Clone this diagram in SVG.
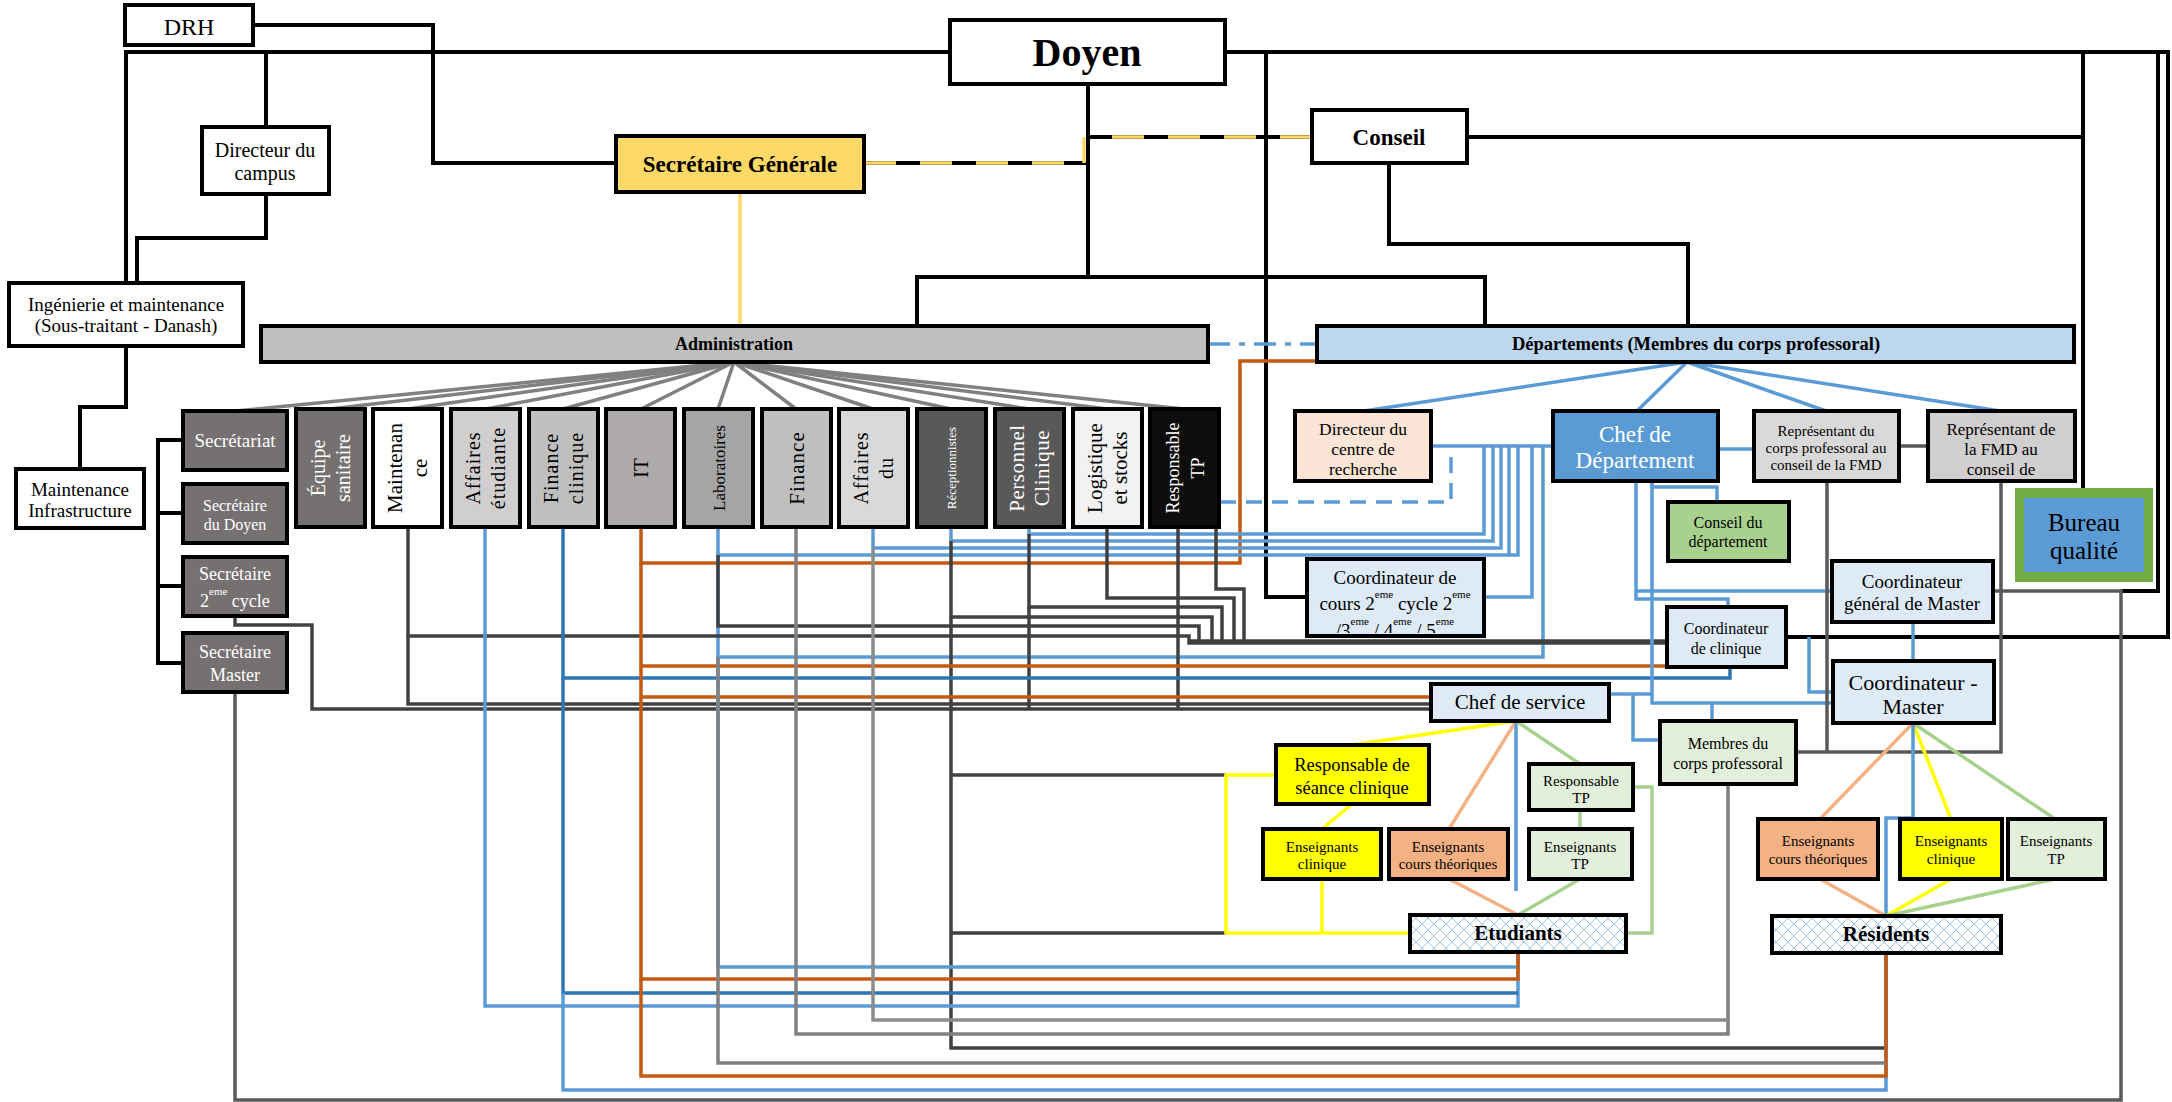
<svg xmlns="http://www.w3.org/2000/svg" width="2172" height="1102" viewBox="0 0 2172 1102">
<style>
.t{font-family:"Liberation Serif","Times New Roman",serif;text-anchor:middle;fill:#000}
.w{fill:#fff}
.b{font-weight:bold}
.bx{stroke:#000;stroke-width:4}
.ln{fill:none;stroke-width:3.5;stroke-linejoin:miter}
.k{stroke:#000;stroke-width:4}
.gy{stroke:#808080}
.dg{stroke:#404040}
.mg{stroke:#595959}
.lg{stroke:#8c8c8c}
.lb{stroke:#5B9BD5}
.db{stroke:#2E75B6}
.or{stroke:#C55A11}
.yl{stroke:#FFFF00}
.pe{stroke:#F4B183}
.gr{stroke:#A9D18E}
</style>
<defs>
<pattern id="trellis" width="12" height="12" patternUnits="userSpaceOnUse">
<rect width="12" height="12" fill="#fff"/>
<path d="M0,6 L6,0 L12,6 L6,12 Z" fill="none" stroke="#9DC3E6" stroke-width="1"/>
</pattern>
<clipPath id="ccClip"><rect x="1309" y="561" width="173" height="72"/></clipPath>
</defs>
<rect width="2172" height="1102" fill="#fff"/>

<g id="connectors">
<path class="ln k" d="M253,25 H433 V163 H615"/>
<path class="ln k" d="M950,52 H126 V283"/>
<path class="ln k" d="M266,52 V127"/>
<path class="ln k" d="M266,194 V238 H137 V283"/>
<path class="ln k" d="M126,346 V407 H80 V469"/>
<path class="ln k" d="M1225,52 H2168 V637 H1786"/>
<path class="ln k" d="M2158,52 V591 H2121"/>
<path class="ln k" d="M2083,52 V490"/>
<path class="ln k" d="M1266,52 V597 H1307"/>
<path class="ln k" d="M1088,84 V277"/>
<path class="ln k" d="M917,326 V277 H1485 V326"/>
<path class="ln k" d="M1467,137 H2083"/>
<path class="ln k" d="M1389,163 V244 H1688 V326"/>
<path class="ln k" d="M864,163 H1088 V137 H1312"/>
<path class="ln" stroke="#FFD966" stroke-width="9" stroke-dasharray="32 24" d="M864,163 H1088"/>
<path class="ln" stroke="#FFD966" stroke-width="9" stroke-dasharray="32 24" d="M1312,137 H1088"/>
<path class="ln" stroke="#FFD966" stroke-width="4" d="M1084,137 V163"/>
<path class="ln" stroke="#FFD966" stroke-width="5" d="M740,192 V326"/>
<path class="ln k" d="M183,440 H158 V663 H183 M158,513 H183 M158,586 H183"/>
<path class="ln lb" stroke-width="5" stroke-dasharray="22 9 6 9" d="M1208,344 H1317"/>

<g class="ln gy" stroke-width="4">
<path d="M734,362 L235,411"/><path d="M734,362 L330,409"/><path d="M734,362 L408,409"/>
<path d="M734,362 L486,409"/><path d="M734,362 L563,409"/><path d="M734,362 L641,409"/>
<path d="M734,362 L718,409"/><path d="M734,362 L796,409"/><path d="M734,362 L873,409"/>
<path d="M734,362 L951,409"/><path d="M734,362 L1029,409"/><path d="M734,362 L1107,409"/>
<path d="M734,362 L1184,409"/>
</g>
<path class="ln lb" stroke-width="6" d="M1687,362 L1364,411"/>
<path class="ln lb" stroke-width="4" d="M1687,362 L1637,411"/>
<path class="ln lb" stroke-width="5" d="M1687,362 L1826,411"/>
<path class="ln lb" stroke-width="6" d="M1687,362 L2000,411"/>

<path class="ln lb" stroke-width="4" d="M1431,446 H1553"/>
<path class="ln lb" stroke-width="4" stroke-dasharray="16 10" d="M1220,502 H1451 V446"/>
<path class="ln lb" d="M1219,510 V527"/>

<path class="ln or" d="M641,527 V563 H1240 V361 H1317"/>
<path class="ln lb" d="M718,527 V555 H1518 V446"/>
<path class="ln lb" d="M1509,446 V555"/>
<path class="ln lb" d="M873,527 V548 H1501 V446"/>
<path class="ln lb" d="M951,527 V541 H1493 V446"/>
<path class="ln lb" d="M1029,527 V534 H1484 V446"/>
<path class="ln lb" d="M1484,597 H1532 V446"/>
<path class="ln lb" d="M718,555 V657 H1543 V446"/>

<g class="ln dg" stroke-width="4">
<path d="M1216,527 V589 H1244 V643"/>
<path d="M1107,527 V598 H1234 V643"/>
<path d="M1029,534 V607 H1222 V643"/>
<path d="M951,541 V617 H1212 V643"/>
<path d="M718,555 V626 H1199 V643"/>
<path d="M408,527 V636 H1189 V643 H1666"/>
<path d="M1189,641 H1666"/>
<path d="M408,636 V704 H1431"/>
<path d="M235,616 V625 H312 V709 H1431"/>
<path d="M1029,607 V709"/>
<path d="M1178,527 V709"/>
<path d="M951,617 V1048 H1886 V953"/>
<path d="M951,775 H1226"/>
<path d="M951,933 H1226"/>
</g>
<path class="ln or" d="M641,563 V666 H1668"/>
<path class="ln db" d="M563,527 V678 H1730 V666"/>
<path class="ln or" d="M641,666 V697 H1431"/>
<path class="ln lb" d="M485,527 V1006 H1518 V952"/>
<path class="ln lb" d="M718,657 V967 H1518 V952"/>
<path class="ln or" d="M641,697 V979 H1518 V952"/>
<path class="ln db" d="M563,678 V993 H1518"/>
<path class="ln lb" d="M563,993 V1090 H1886 V953"/>
<path class="ln or" d="M641,979 V1076 H1886 V953"/>
<path class="ln gy" d="M718,657 V1063 H1886"/>
<path class="ln gy" d="M796,527 V1034 H1728 V784"/>
<path class="ln lg" d="M873,548 V1020 H1728"/>
<path class="ln mg" d="M235,692 V1100 H2121 V591 H1993"/>

<path class="ln lb" stroke-width="6" d="M1718,449 H1754"/>
<path class="ln mg" stroke-width="5" d="M1899,446 H1928"/>
<path class="ln lb" stroke-width="4" d="M1636,481 V591 H1832"/>
<path class="ln lb" stroke-width="4" d="M1636,591 V599 H1728 V607"/>
<path class="ln lb" stroke-width="4" d="M1652,481 V703 H1833"/>
<path class="ln lb" stroke-width="4" d="M1712,703 V721"/>
<path class="ln lb" stroke-width="4" d="M1652,481 V487 H1717 V502"/>
<path class="ln lb" stroke-width="4" d="M1609,694 H1652"/>
<path class="ln lb" stroke-width="4" d="M1633,694 V740 H1660"/>
<path class="ln lb" stroke-width="4" d="M1809,637 V692 H1833"/>
<path class="ln mg" d="M1827,481 V752"/>
<path class="ln mg" d="M1796,752 H2001 V481"/>
<path class="ln lb" stroke-width="4" d="M1913,622 V661"/>

<path class="ln yl" d="M1516,721 L1352,745"/>
<path class="ln pe" d="M1516,721 L1449,829"/>
<path class="ln lb" d="M1516,721 V891"/>
<path class="ln gr" d="M1516,721 L1580,764"/>
<path class="ln yl" d="M1352,804 L1322,829"/>
<path class="ln yl" d="M1322,879 V933"/>
<path class="ln yl" d="M1276,775 H1226 V933 H1410"/>
<path class="ln pe" d="M1449,879 L1518,915"/>
<path class="ln gr" d="M1580,879 L1518,915"/>
<path class="ln gr" d="M1580,810 V829"/>
<path class="ln gr" d="M1633,787 H1652 V933 H1626"/>

<path class="ln pe" d="M1913,723 L1820,819"/>
<path class="ln yl" d="M1913,723 L1951,819"/>
<path class="ln gr" d="M1913,723 L2055,819"/>
<path class="ln lb" d="M1913,723 V818 H1886 V916"/>
<path class="ln pe" d="M1820,879 L1886,916"/>
<path class="ln yl" d="M1951,879 L1886,916"/>
<path class="ln gr" stroke-width="5" d="M2055,879 L1886,916"/>
</g>

<g id="n-drh"><rect class="bx" x="125" y="5" width="128" height="40" fill="#fff"/><text class="t" x="189" y="35" font-size="24">DRH</text></g>
<g id="n-doyen"><rect class="bx" x="950" y="20" width="275" height="64" fill="#fff"/><text class="t b" x="1087" y="66" font-size="40">Doyen</text></g>
<g id="n-sg"><rect class="bx" x="616" y="136" width="248" height="56" fill="#FFD966"/><text class="t b" x="740" y="172" font-size="23">Secrétaire Générale</text></g>
<g id="n-conseil"><rect class="bx" x="1312" y="110" width="155" height="53" fill="#fff"/><text class="t b" x="1389" y="145" font-size="23">Conseil</text></g>
<g id="n-campus"><rect class="bx" x="202" y="127" width="127" height="67" fill="#fff"/><text class="t" x="265" font-size="20"><tspan x="265" y="157">Directeur du</tspan><tspan x="265" y="180">campus</tspan></text></g>
<g id="n-inge"><rect class="bx" x="9" y="283" width="234" height="63" fill="#fff"/><text class="t" font-size="19"><tspan x="126" y="311">Ingénierie et maintenance</tspan><tspan x="126" y="332">(Sous-traitant - Danash)</tspan></text></g>
<g id="n-maintinfra"><rect class="bx" x="16" y="469" width="128" height="59" fill="#fff"/><text class="t" font-size="19"><tspan x="80" y="496">Maintenance</tspan><tspan x="80" y="517">Infrastructure</tspan></text></g>
<g id="n-admin"><rect class="bx" x="261" y="326" width="947" height="36" fill="#BFBFBF"/><text class="t b" x="734" y="350" font-size="18">Administration</text></g>
<g id="n-dept"><rect class="bx" x="1317" y="326" width="757" height="36" fill="#BDD7EE"/><text class="t b" x="1696" y="350" font-size="18.5">Départements (Membres du corps professoral)</text></g>

<g id="n-secretariat"><rect class="bx" x="183" y="411" width="104" height="59" fill="#767171"/><text class="t w" x="235" y="447" font-size="19">Secrétariat</text></g>
<g id="n-secdoyen"><rect class="bx" x="183" y="484" width="104" height="59" fill="#767171"/><text class="t w" font-size="16"><tspan x="235" y="511">Secrétaire</tspan><tspan x="235" y="530">du Doyen</tspan></text></g>
<g id="n-sec2"><rect class="bx" x="183" y="557" width="104" height="59" fill="#767171"/><text class="t w" font-size="18"><tspan x="235" y="580">Secrétaire</tspan><tspan x="200" y="607" text-anchor="start">2</tspan><tspan font-size="11" dy="-12">eme</tspan><tspan dy="12"> cycle</tspan></text></g>
<g id="n-secmaster"><rect class="bx" x="183" y="633" width="104" height="59" fill="#767171"/><text class="t w" font-size="18"><tspan x="235" y="658">Secrétaire</tspan><tspan x="235" y="681">Master</tspan></text></g>

<g id="n-equipe"><rect class="bx" x="296" y="409" width="69" height="118" fill="#767171"/><text class="t w" font-size="20" transform="translate(330.5,468) rotate(-90)"><tspan x="0" y="-5.5">Équipe</tspan><tspan x="0" y="19.5">sanitaire</tspan></text></g>
<g id="n-maint"><rect class="bx" x="373" y="409" width="69" height="118" fill="#fff"/><text class="t" font-size="21" transform="translate(407.5,468) rotate(-90)"><tspan x="0" y="-5.5">Maintenan</tspan><tspan x="0" y="19.5">ce</tspan></text></g>
<g id="n-affet"><rect class="bx" x="451" y="409" width="69" height="118" fill="#D0CECE"/><text class="t" font-size="20" letter-spacing="1" transform="translate(485.5,468) rotate(-90)"><tspan x="0" y="-5.5">Affaires</tspan><tspan x="0" y="19.5">étudiante</tspan></text></g>
<g id="n-fincl"><rect class="bx" x="529" y="409" width="69" height="118" fill="#BFBFBF"/><text class="t" font-size="20" letter-spacing="1" transform="translate(563.5,468) rotate(-90)"><tspan x="0" y="-5.5">Finance</tspan><tspan x="0" y="19.5">clinique</tspan></text></g>
<g id="n-it"><rect class="bx" x="606" y="409" width="69" height="118" fill="#AEAAAA"/><text class="t" font-size="21" transform="translate(640.5,468) rotate(-90)"><tspan x="0" y="7">IT</tspan></text></g>
<g id="n-labo"><rect class="bx" x="684" y="409" width="69" height="118" fill="#A5A5A5"/><text class="t" font-size="17" transform="translate(718.5,468) rotate(-90)"><tspan x="0" y="6">Laboratoires</tspan></text></g>
<g id="n-finance"><rect class="bx" x="762" y="409" width="69" height="118" fill="#BFBFBF"/><text class="t" font-size="21" letter-spacing="1" transform="translate(796.5,468) rotate(-90)"><tspan x="0" y="7">Finance</tspan></text></g>
<g id="n-affdu"><rect class="bx" x="839" y="409" width="69" height="118" fill="#D9D9D9"/><text class="t" font-size="20" letter-spacing="1" transform="translate(873.5,468) rotate(-90)"><tspan x="0" y="-5.5">Affaires</tspan><tspan x="0" y="19.5">du</tspan></text></g>
<g id="n-recep"><rect class="bx" x="917" y="409" width="69" height="118" fill="#595959"/><text class="t w" font-size="13" transform="translate(951.5,468) rotate(-90)"><tspan x="0" y="4.5">Réceptionnistes</tspan></text></g>
<g id="n-perso"><rect class="bx" x="995" y="409" width="69" height="118" fill="#595959"/><text class="t w" font-size="21" letter-spacing="0.5" transform="translate(1029.5,468) rotate(-90)"><tspan x="0" y="-5.5">Personnel</tspan><tspan x="0" y="19.5">Clinique</tspan></text></g>
<g id="n-logi"><rect class="bx" x="1073" y="409" width="69" height="118" fill="#F2F2F2"/><text class="t" font-size="21" transform="translate(1107.5,468) rotate(-90)"><tspan x="0" y="-5.5">Logistique</tspan><tspan x="0" y="19.5">et stocks</tspan></text></g>
<g id="n-resptp"><rect class="bx" x="1150" y="409" width="69" height="118" fill="#0D0D0D"/><text class="t w" font-size="18" transform="translate(1184.5,468) rotate(-90)"><tspan x="0" y="-5.5">Responsable</tspan><tspan x="0" y="19.5">TP</tspan></text></g>

<g id="n-dircentre"><rect class="bx" x="1295" y="411" width="136" height="70" fill="#FBE5D6"/><text class="t" font-size="17.5"><tspan x="1363" y="435">Directeur du</tspan><tspan x="1363" y="455">centre de</tspan><tspan x="1363" y="475">recherche</tspan></text></g>
<g id="n-chefdep"><rect class="bx" x="1553" y="411" width="165" height="70" fill="#5B9BD5"/><text class="t w" font-size="23"><tspan x="1635" y="442">Chef de</tspan><tspan x="1635" y="468">Département</tspan></text></g>
<g id="n-repcorps"><rect class="bx" x="1754" y="411" width="145" height="70" fill="#D9D9D9"/><text class="t" font-size="15"><tspan x="1826" y="436">Représentant du</tspan><tspan x="1826" y="453">corps professoral au</tspan><tspan x="1826" y="470">conseil de la FMD</tspan></text></g>
<g id="n-repfmd"><rect class="bx" x="1928" y="411" width="147" height="70" fill="#D0CECE"/><text class="t" font-size="17"><tspan x="2001" y="435">Représentant de</tspan><tspan x="2001" y="455">la FMD au</tspan><tspan x="2001" y="475">conseil de</tspan></text></g>
<g id="n-conseildep"><rect class="bx" x="1668" y="502" width="121" height="59" fill="#A9D18E"/><text class="t" font-size="16"><tspan x="1728" y="528">Conseil du</tspan><tspan x="1728" y="547">département</tspan></text></g>
<g id="n-bureau"><rect x="2015" y="488" width="138" height="94" fill="#70AD47"/><rect x="2024" y="498" width="120" height="74" fill="#5B9BD5"/><text class="t" font-size="25"><tspan x="2084" y="531">Bureau</tspan><tspan x="2084" y="559">qualité</tspan></text></g>
<g id="n-coordcours"><rect class="bx" x="1307" y="559" width="177" height="77" fill="#DEEBF7"/><g clip-path="url(#ccClip)"><text class="t" font-size="19"><tspan x="1395" y="584">Coordinateur de</tspan></text><text class="t" font-size="19" x="1395" y="610">cours 2<tspan font-size="11" dy="-12">eme</tspan><tspan dy="12"> cycle  2</tspan><tspan font-size="11" dy="-12">eme</tspan></text><text class="t" font-size="19" x="1395" y="637">/3<tspan font-size="11" dy="-12">eme</tspan><tspan dy="12"> / 4</tspan><tspan font-size="11" dy="-12">eme</tspan><tspan dy="12"> / 5</tspan><tspan font-size="11" dy="-12">eme</tspan></text></g></g>
<g id="n-coordgen"><rect class="bx" x="1832" y="561" width="161" height="61" fill="#DEEBF7"/><text class="t" font-size="19"><tspan x="1912" y="588">Coordinateur</tspan><tspan x="1912" y="610">général de Master</tspan></text></g>
<g id="n-coordclin"><rect class="bx" x="1667" y="607" width="119" height="60" fill="#DEEBF7"/><text class="t" font-size="16"><tspan x="1726" y="634">Coordinateur</tspan><tspan x="1726" y="654">de clinique</tspan></text></g>
<g id="n-coordmaster"><rect class="bx" x="1833" y="661" width="161" height="62" fill="#DEEBF7"/><text class="t" font-size="22"><tspan x="1913" y="690">Coordinateur -</tspan><tspan x="1913" y="714">Master</tspan></text></g>
<g id="n-chefserv"><rect class="bx" x="1431" y="684" width="178" height="37" fill="#DEEBF7"/><text class="t" x="1520" y="709" font-size="21">Chef de service</text></g>
<g id="n-membres"><rect class="bx" x="1660" y="721" width="136" height="63" fill="#E2EFDA"/><text class="t" font-size="16"><tspan x="1728" y="749">Membres du</tspan><tspan x="1728" y="769">corps professoral</tspan></text></g>
<g id="n-respseance"><rect class="bx" x="1276" y="745" width="153" height="59" fill="#FFFF00"/><text class="t" font-size="18.5"><tspan x="1352" y="771">Responsable de</tspan><tspan x="1352" y="794">séance clinique</tspan></text></g>
<g id="n-ensclin-e"><rect class="bx" x="1263" y="829" width="118" height="50" fill="#FFFF00"/><text class="t" font-size="15"><tspan x="1322" y="852">Enseignants</tspan><tspan x="1322" y="869">clinique</tspan></text></g>
<g id="n-enscours-e"><rect class="bx" x="1389" y="829" width="119" height="50" fill="#F4B183"/><text class="t" font-size="15"><tspan x="1448" y="852">Enseignants</tspan><tspan x="1448" y="869">cours théoriques</tspan></text></g>
<g id="n-resptp2"><rect class="bx" x="1529" y="764" width="104" height="46" fill="#E2EFDA"/><text class="t" font-size="15"><tspan x="1581" y="786">Responsable</tspan><tspan x="1581" y="803">TP</tspan></text></g>
<g id="n-enstp-e"><rect class="bx" x="1529" y="829" width="103" height="50" fill="#E2EFDA"/><text class="t" font-size="15"><tspan x="1580" y="852">Enseignants</tspan><tspan x="1580" y="869">TP</tspan></text></g>
<g id="n-etudiants"><rect class="bx" x="1410" y="915" width="216" height="37" fill="url(#trellis)"/><text class="t b" x="1518" y="940" font-size="21">Etudiants</text></g>
<g id="n-enscours-r"><rect class="bx" x="1758" y="819" width="120" height="60" fill="#F4B183"/><text class="t" font-size="15"><tspan x="1818" y="846">Enseignants</tspan><tspan x="1818" y="864">cours théoriques</tspan></text></g>
<g id="n-ensclin-r"><rect class="bx" x="1900" y="819" width="102" height="60" fill="#FFFF00"/><text class="t" font-size="15"><tspan x="1951" y="846">Enseignants</tspan><tspan x="1951" y="864">clinique</tspan></text></g>
<g id="n-enstp-r"><rect class="bx" x="2008" y="819" width="97" height="60" fill="#E2EFDA"/><text class="t" font-size="15"><tspan x="2056" y="846">Enseignants</tspan><tspan x="2056" y="864">TP</tspan></text></g>
<g id="n-residents"><rect class="bx" x="1772" y="916" width="229" height="37" fill="url(#trellis)"/><text class="t b" x="1886" y="941" font-size="21">Résidents</text></g>
</svg>
